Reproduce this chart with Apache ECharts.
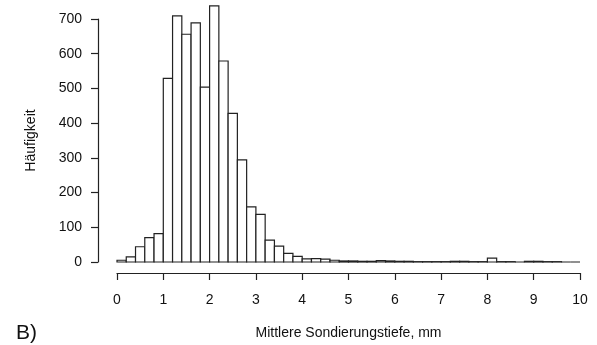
<!DOCTYPE html>
<html>
<head>
<meta charset="utf-8">
<script src="https://cdn.jsdelivr.net/npm/echarts@6/dist/echarts.min.js"></script>
<style>
  html, body { margin: 0; padding: 0; background: #fff; }
  #chart { width: 597px; height: 345px; }
</style>
</head>
<body>
<div id="chart"></div>
<script>
// histogram bins (lower edge, width 0.2 mm) and counts
const binStarts = [
  0.0, 0.2, 0.4, 0.6, 0.8, 1.0, 1.2, 1.4, 1.6, 1.8,
  2.0, 2.2, 2.4, 2.6, 2.8, 3.0, 3.2, 3.4, 3.6, 3.8,
  4.0, 4.2, 4.4, 4.6, 4.8, 5.0, 5.2, 5.4, 5.6, 5.8,
  6.0, 6.2, 6.4, 6.6, 6.8, 7.0, 7.2, 7.4, 7.6, 7.8,
  8.0, 8.2, 8.4, 8.6, 8.8, 9.0, 9.2, 9.4, 9.6, 9.8
]
const binWidth = 0.2
const counts = [
  5, 15, 44, 70, 82, 529, 709, 656, 689, 504,
  738, 579, 428, 294, 159, 137, 63, 46, 25, 16,
  9, 10, 8, 5, 3, 3, 2, 2, 4, 3,
  2, 2, 1, 1, 1, 1, 2, 2, 1, 1,
  11, 1, 1, 0, 2, 2, 1, 1, 0, 0
]
const xTicks = [0, 1, 2, 3, 4, 5, 6, 7, 8, 9, 10]
const yTicks = [0, 100, 200, 300, 400, 500, 600, 700]

const font = 'Liberation Sans, Arial, sans-serif'
const ink = '#222'

const chart = echarts.init(document.getElementById('chart'))
const data = binStarts.map((s, i) => [s, s + binWidth, counts[i]])

const option = {
  animation: false,
  title: {
    text: 'B)',
    left: 11,
    top: 318,
    textStyle: {fontFamily: font, fontSize: 21, fontWeight: 'normal', color: '#111'}
  },
  grid: {left: 117, right: 17, top: 19, bottom: 83, outerBoundsMode: 'none'},
  xAxis: {
    type: 'value',
    min: 0,
    max: 10,
    interval: 1,
    offset: 11,
    splitLine: {show: false},
    axisLine: {show: true, onZero: false, lineStyle: {color: ink, width: 1.2}},
    axisTick: {show: true, length: 7, lineStyle: {color: ink, width: 1.2}},
    axisLabel: {
      margin: 20, fontFamily: font, fontSize: 14, color: '#111',
      formatter: v => xTicks.includes(v) ? String(v) : ''
    },
    name: 'Mittlere Sondierungstiefe, mm',
    nameLocation: 'middle',
    nameGap: 53,
    nameTextStyle: {fontFamily: font, fontSize: 14, color: '#111'}
  },
  yAxis: {
    type: 'value',
    min: 0,
    max: 700,
    interval: 100,
    offset: 19,
    splitLine: {show: false},
    axisLine: {show: true, onZero: false, lineStyle: {color: ink, width: 1.2}},
    axisTick: {show: true, length: 7, lineStyle: {color: ink, width: 1.2}},
    axisLabel: {
      margin: 16, fontFamily: font, fontSize: 14, color: '#111',
      formatter: v => yTicks.includes(v) ? String(v) : ''
    },
    name: 'Häufigkeit',
    nameLocation: 'middle',
    nameGap: 60,
    nameTextStyle: {fontFamily: font, fontSize: 14, color: '#111'}
  },
  series: [{
    type: 'custom',
    clip: false,
    encode: {x: [0, 1], y: 2},
    data: data,
    renderItem: (params, api) => {
      const p0 = api.coord([api.value(0), api.value(2)])
      const p1 = api.coord([api.value(1), 0])
      return {
        type: 'rect',
        shape: {x: p0[0], y: p0[1], width: p1[0] - p0[0], height: p1[1] - p0[1]},
        style: {fill: '#fff', stroke: ink, lineWidth: 1.2}
      }
    }
  }]
}

chart.setOption(option)
</script>
</body>
</html>
